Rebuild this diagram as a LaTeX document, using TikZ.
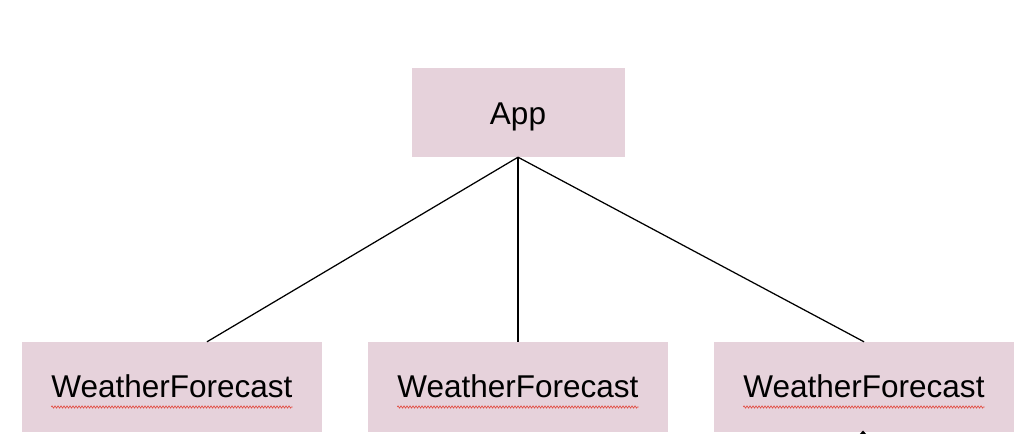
\documentclass[tikz,border=0pt]{standalone}
\usepackage{fontspec}
\setmainfont{Liberation Sans}
\usetikzlibrary{decorations.pathmorphing,calc}
\definecolor{boxfill}{RGB}{230,210,219}
\definecolor{squiggle}{RGB}{226,80,70}
\begin{document}
\begin{tikzpicture}[x=1bp,y=-1bp,
  box/.style={fill=boxfill,draw=none,inner sep=0pt,minimum width=300bp,minimum height=90bp},
  label/.style={font=\fontsize{31.5bp}{36bp}\selectfont,inner sep=0pt,anchor=base},
  link/.style={line width=1.25bp,black},
  spell/.style={squiggle,line width=0.7bp,decorate,
    decoration={zigzag,amplitude=1.1bp,segment length=3bp}}]
\useasboundingbox (0,0) rectangle (1026,434);
% parent
\node[box,minimum width=213bp,minimum height=89bp] (app) at (518,112.5) {};
\node[label] (appt) at ($(app.center)+(0,12.5)$) {App};
% children
\node[box] (w1) at (172,387) {};
\node[box] (w2) at (518,387) {};
\node[box] (w3) at (864,387) {};
\foreach \n in {w1,w2,w3}{
  \node[label] (\n t) at ($(\n.center)+(0,11)$) {WeatherForecast};
  \draw[spell] ($(\n t.base west)+(0,9)$) -- ($(\n t.base east)+(0,9)$);
}
% connectors
\coordinate (e1) at ($(w1.north)+(35,0)$);
\draw[link] (app.south) -- (e1);
\draw[link] (app.south) -- (w2.north);
\draw[link] (app.south) -- (w3.north);
% small mark below the right box
\fill (859.5,434.5) -- (863,430.5) -- (866.5,434.5) -- cycle;
\end{tikzpicture}
\end{document}
